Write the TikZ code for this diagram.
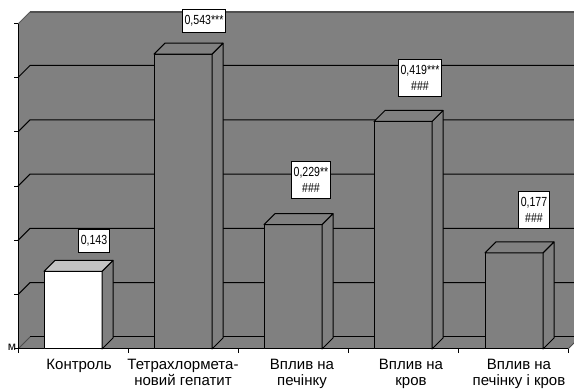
\documentclass[tikz,border=0pt]{standalone}
\usepackage{fontspec}
\setmainfont{Liberation Sans}
\newfontfamily\valfont[FakeStretch=0.8]{Liberation Sans}
\definecolor{wallgray}{HTML}{808080}
\definecolor{topgray}{HTML}{C4C4C4}
\definecolor{edgegray}{HTML}{505050}
\tikzset{
  valbox/.style={draw=black, fill=white, line width=0.5pt, font=\valfont\fontsize{6.6}{8}\selectfont,
    inner xsep=1.3pt, inner ysep=3pt, align=center},
  catlabel/.style={font=\fontsize{7.5}{8}\selectfont, align=center, anchor=north, inner sep=0pt},
  gridline/.style={black, line width=0.5pt},
  barface/.style={draw=black, line width=0.5pt, line join=round},
}
\begin{document}
\begin{tikzpicture}[x=0.5pt,y=-0.5pt]
\useasboundingbox (0,0) rectangle (574,389);
\clip (0,0) rectangle (574,389);

\fill[wallgray] (18,24) -- (30,12) -- (580,12) -- (580,337) -- (568,349) -- (18,349) -- cycle; %стіни і підлога
\draw[edgegray, line width=1pt] (30,12.5) -- (580,12.5); %верхній край стіни
\draw[gray!70!black] (18,24) -- (30,12); %ліва стінка вгорі

\foreach \k in {1,...,5}
  \draw[gridline] (18,{349-\k*54.3}) -- (30,{337-\k*54.3}) -- (580,{337-\k*54.3}); %сітка

\draw[gridline] (30,337) -- (580,337); %задній край підлоги
\draw[gray!60!black] (18,349) -- (30,337);
\draw[gray!60!black] (568,349) -- (580,337);

\draw[line width=0.5pt] (18,24) -- (18,349) -- (568,349); %осі
\foreach \k in {0,...,6}
  \draw[line width=0.5pt] (14,{349-\k*54.3}) -- (18,{349-\k*54.3});
\foreach \k in {0,...,5}
  \draw[line width=0.5pt] ({18+\k*110},349) -- ({18+\k*110},353);

\node[font=\fontsize{6}{6}\selectfont, inner sep=0pt] (m) at (12,347.5) {м};

%стовпчики
\foreach \xl/\val/\frontc/\topc in {44/0.143/white/topgray, 154/0.543/wallgray/wallgray,
    264/0.229/wallgray/wallgray, 374/0.419/wallgray/wallgray, 485/0.177/wallgray/wallgray}
{
  \pgfmathsetmacro\yt{349-\val*543}
  \filldraw[barface, fill=\frontc] (\xl,349) rectangle (\xl+58,\yt); %перед
  \filldraw[barface, fill=wallgray] (\xl+58,349) -- (\xl+69,338) -- (\xl+69,\yt-11) -- (\xl+58,\yt) -- cycle; %бік
  \filldraw[barface, fill=\topc] (\xl,\yt) -- (\xl+11,\yt-11) -- (\xl+69,\yt-11) -- (\xl+58,\yt) -- cycle; %верх
}

\node[valbox] (v1) at (94,241) {0,143};
\node[valbox] (v2) at (204,21) {0,543***};
\node[valbox] (v3) at (311,180) {0,229**\\\#\#\#};
\node[valbox] (v4) at (420,78) {0,419***\\\#\#\#};
\node[valbox] (v5) at (534,210) {0,177\\\#\#\#};

\node[catlabel] (c1) at (79,359) {Контроль};
\node[catlabel] (c2) at (183,359) {Тетрахлормета-\\новий гепатит};
\node[catlabel] (c3) at (302,359) {Вплив на\\печінку};
\node[catlabel] (c4) at (411,359) {Вплив на\\кров};
\node[catlabel] (c5) at (519,359) {Вплив на\\печінку і кров};

\end{tikzpicture}
\end{document}
